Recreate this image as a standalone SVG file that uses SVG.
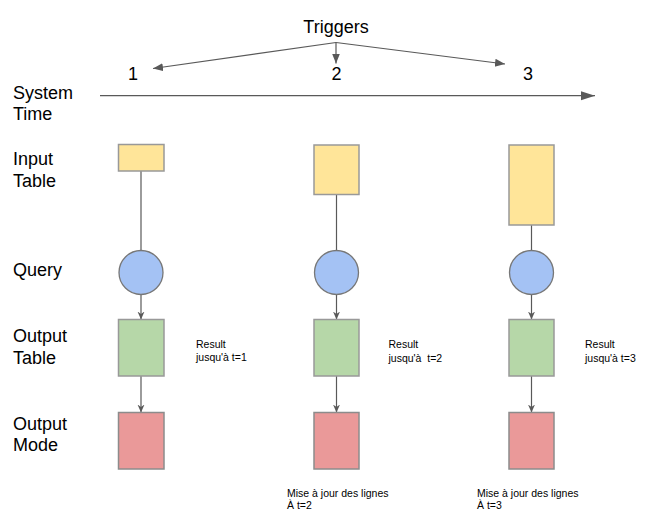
<svg xmlns="http://www.w3.org/2000/svg" width="665" height="520" viewBox="0 0 665 520">
<style>
text{font-family:"Liberation Sans",Arial,sans-serif;fill:#000}
.lbl{font-size:18px}
.sm{font-size:10.5px}
.in{fill:#FFE599;stroke:#999;stroke-width:1.5}
.q{fill:#A4C2F4;stroke:#777;stroke-width:1.3}
.out{fill:#B6D7A8;stroke:#999;stroke-width:1.5}
.mode{fill:#EA9999;stroke:#8c8c8c;stroke-width:1.5}
.c{stroke:#595959;stroke-width:1.2;fill:none}
</style>
<defs>
<marker id="v" markerWidth="10" markerHeight="10" refX="8" refY="4" orient="auto" markerUnits="userSpaceOnUse">
<path d="M8,4 L0,0.5 L2.5,4 L0,7.5 Z" fill="#595959"/>
</marker>
<marker id="t" markerWidth="12" markerHeight="10" refX="10" refY="4" orient="auto" markerUnits="userSpaceOnUse">
<path d="M10,4 L0,0 L0,8 Z" fill="#595959"/>
</marker>
<marker id="big" markerWidth="16" markerHeight="12" refX="14" refY="5" orient="auto" markerUnits="userSpaceOnUse">
<path d="M14,5 L0,0.5 L0,9.5 Z" fill="#595959"/>
</marker>
</defs>
<g id="labels">
<text class="lbl" x="336" y="33" text-anchor="middle">Triggers</text>
<text class="lbl" x="133" y="80" text-anchor="middle">1</text>
<text class="lbl" x="336.5" y="80" text-anchor="middle">2</text>
<text class="lbl" x="528" y="80" text-anchor="middle">3</text>
<text class="lbl" x="13" y="98.5">System</text>
<text class="lbl" x="13" y="120">Time</text>
<text class="lbl" x="13" y="165">Input</text>
<text class="lbl" x="13" y="186.5">Table</text>
<text class="lbl" x="13" y="276">Query</text>
<text class="lbl" x="13" y="342">Output</text>
<text class="lbl" x="13" y="363.5">Table</text>
<text class="lbl" x="13" y="429.5">Output</text>
<text class="lbl" x="13" y="451">Mode</text>
<text class="sm" x="196" y="347.5">Result</text>
<text class="sm" x="196" y="361">jusqu'à t=1</text>
<text class="sm" x="388.5" y="348">Result</text>
<text class="sm" x="388.5" y="361.5" xml:space="preserve">jusqu'à  t=2</text>
<text class="sm" x="585" y="348">Result</text>
<text class="sm" x="585" y="361.5">jusqu'à t=3</text>
<text class="sm" x="287" y="496.5">Mise à jour des lignes</text>
<text class="sm" x="287" y="508.5">À t=2</text>
<text class="sm" x="477" y="496.5">Mise à jour des lignes</text>
<text class="sm" x="477" y="508.5">À t=3</text>
</g>
<g id="connectors">
<line class="c" x1="100" y1="95.7" x2="595" y2="95.7" stroke-width="2.2" marker-end="url(#big)"/>
<line class="c" x1="336" y1="42.5" x2="153" y2="68.5" marker-end="url(#t)"/>
<line class="c" x1="336" y1="42.5" x2="336" y2="63.5" marker-end="url(#t)"/>
<line class="c" x1="336" y1="42.5" x2="505" y2="64" marker-end="url(#t)"/>
<line class="c" x1="141" y1="171" x2="141" y2="250.5"/>
<line class="c" x1="141" y1="294.5" x2="141" y2="319.5" marker-end="url(#v)"/>
<line class="c" x1="141" y1="376" x2="141" y2="412.5" marker-end="url(#v)"/>
<line class="c" x1="336.5" y1="194.5" x2="336.5" y2="250.5"/>
<line class="c" x1="336.5" y1="294.5" x2="336.5" y2="319.5" marker-end="url(#v)"/>
<line class="c" x1="336.5" y1="376" x2="336.5" y2="412.5" marker-end="url(#v)"/>
<line class="c" x1="531.5" y1="225" x2="531.5" y2="250.5"/>
<line class="c" x1="531.5" y1="294.5" x2="531.5" y2="319.5" marker-end="url(#v)"/>
<line class="c" x1="531.5" y1="376" x2="531.5" y2="412.5" marker-end="url(#v)"/>
</g>
<g id="input1"><rect class="in" x="118.5" y="144.5" width="45.5" height="26.5"/></g>
<g id="input2"><rect class="in" x="314" y="145" width="45" height="49.5"/></g>
<g id="input3"><rect class="in" x="509" y="145" width="45" height="80"/></g>
<g id="query1"><circle class="q" cx="141" cy="272.5" r="22"/></g>
<g id="query2"><circle class="q" cx="336.5" cy="272.5" r="22"/></g>
<g id="query3"><circle class="q" cx="531.5" cy="272.5" r="22"/></g>
<g id="output1"><rect class="out" x="118.5" y="319.5" width="45.5" height="56.5"/></g>
<g id="output2"><rect class="out" x="314" y="319.5" width="45" height="56.5"/></g>
<g id="output3"><rect class="out" x="509" y="319.5" width="45" height="56.5"/></g>
<g id="mode1"><rect class="mode" x="118.5" y="412.5" width="45.5" height="56.5"/></g>
<g id="mode2"><rect class="mode" x="314" y="412.5" width="45" height="56.5"/></g>
<g id="mode3"><rect class="mode" x="509" y="412.5" width="45" height="56.5"/></g>
</svg>
